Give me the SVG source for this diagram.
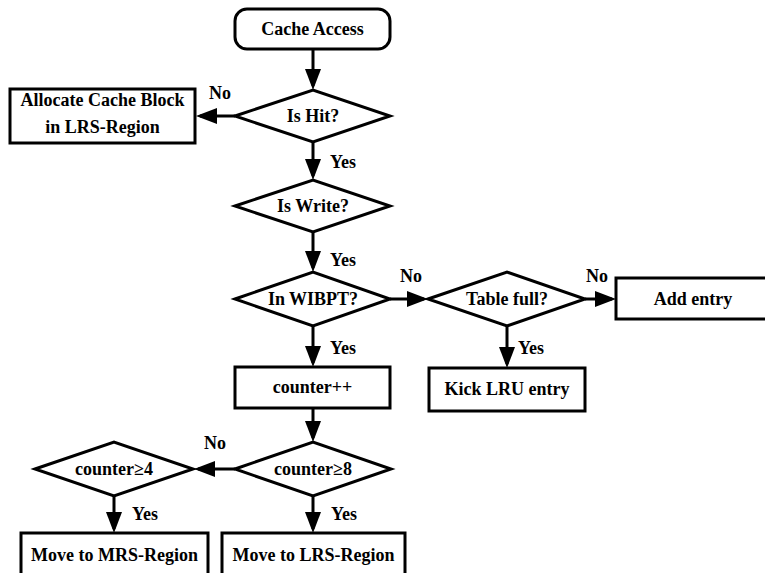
<svg xmlns="http://www.w3.org/2000/svg" width="765" height="573" viewBox="0 0 765 573">
<defs>
<style>
.s{fill:#fff;stroke:#000;stroke-width:3;stroke-linejoin:miter;stroke-miterlimit:10}
.t{font-family:"Liberation Serif","Times New Roman",serif;font-weight:bold;font-size:18px;fill:#000;text-anchor:middle}
.c{stroke:#000;stroke-width:3;fill:none}
</style>
<marker id="ah" markerUnits="userSpaceOnUse" markerWidth="21" markerHeight="16" refX="17" refY="8" orient="auto">
<path d="M0,0 L21,8 L0,16 Z" fill="#000"/>
</marker>
</defs>
<rect width="765" height="573" fill="#fff"/>
<g id="connectors">
<line class="c" x1="313" y1="49" x2="313" y2="86" marker-end="url(#ah)"/>
<line class="c" x1="235" y1="116" x2="200" y2="116" marker-end="url(#ah)"/>
<line class="c" x1="313" y1="142" x2="313" y2="176" marker-end="url(#ah)"/>
<line class="c" x1="313" y1="232" x2="313" y2="268" marker-end="url(#ah)"/>
<line class="c" x1="390" y1="299" x2="424" y2="299" marker-end="url(#ah)"/>
<line class="c" x1="585" y1="299" x2="612" y2="299" marker-end="url(#ah)"/>
<line class="c" x1="507" y1="326" x2="507" y2="364" marker-end="url(#ah)"/>
<line class="c" x1="313" y1="326" x2="313" y2="363" marker-end="url(#ah)"/>
<line class="c" x1="313" y1="408" x2="313" y2="438" marker-end="url(#ah)"/>
<line class="c" x1="235" y1="469" x2="198" y2="469" marker-end="url(#ah)"/>
<line class="c" x1="114" y1="496" x2="114" y2="529" marker-end="url(#ah)"/>
<line class="c" x1="313" y1="496" x2="313" y2="529" marker-end="url(#ah)"/>
<text class="t" x="220" y="99">No</text>
<text class="t" x="343" y="168">Yes</text>
<text class="t" x="343" y="266">Yes</text>
<text class="t" x="411" y="282">No</text>
<text class="t" x="597" y="282">No</text>
<text class="t" x="343" y="354">Yes</text>
<text class="t" x="531" y="354">Yes</text>
<text class="t" x="215" y="449">No</text>
<text class="t" x="145" y="520">Yes</text>
<text class="t" x="344" y="520">Yes</text>
</g>
<g id="cache-access">
<rect class="s" x="235" y="9" width="155" height="40" rx="12"/>
<text class="t" x="312.5" y="35">Cache Access</text>
</g>
<g id="is-hit">
<polygon class="s" points="235,116 313,90 390,116 313,142"/>
<text class="t" x="313" y="122">Is Hit?</text>
</g>
<g id="allocate">
<rect class="s" x="10" y="89" width="185" height="54"/>
<text class="t" x="102.5" y="106">Allocate Cache Block</text>
<text class="t" x="102.5" y="133">in LRS-Region</text>
</g>
<g id="is-write">
<polygon class="s" points="235,206 313,180 390,206 313,232"/>
<text class="t" x="313" y="212">Is Write?</text>
</g>
<g id="in-wibpt">
<polygon class="s" points="235,299 313,272 390,299 313,326"/>
<text class="t" x="313" y="305">In WIBPT?</text>
</g>
<g id="table-full">
<polygon class="s" points="428,299 507,272 585,299 507,326"/>
<text class="t" x="507" y="305">Table full?</text>
</g>
<g id="add-entry">
<rect class="s" x="616" y="278" width="154" height="41"/>
<text class="t" x="693" y="305">Add entry</text>
</g>
<g id="kick-lru">
<rect class="s" x="429" y="368" width="156" height="43"/>
<text class="t" x="507" y="395">Kick LRU entry</text>
</g>
<g id="counter-inc">
<rect class="s" x="235" y="367" width="155" height="41"/>
<text class="t" x="312.5" y="393">counter++</text>
</g>
<g id="counter-ge8">
<polygon class="s" points="235,469 313,442 391,469 313,496"/>
<text class="t" x="313" y="475">counter≥8</text>
</g>
<g id="counter-ge4">
<polygon class="s" points="35,469 114,442 193,469 114,496"/>
<text class="t" x="114" y="475">counter≥4</text>
</g>
<g id="move-mrs">
<rect class="s" x="21" y="533" width="187" height="60"/>
<text class="t" x="114.5" y="561">Move to MRS-Region</text>
</g>
<g id="move-lrs">
<rect class="s" x="222" y="533" width="183" height="60"/>
<text class="t" x="313.5" y="561">Move to LRS-Region</text>
</g>
</svg>
